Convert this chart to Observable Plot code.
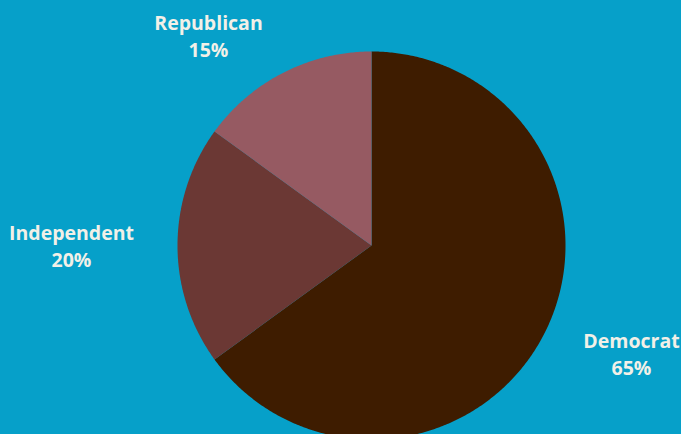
<!DOCTYPE html>
<html>
<head>
<meta charset="utf-8">
<script src="https://cdn.jsdelivr.net/npm/d3@7"></script>
<script src="https://cdn.jsdelivr.net/npm/@observablehq/plot@0.6"></script>
<style>
  html, body { margin: 0; padding: 0; background: #06A0C9; overflow: hidden; }
  #chart svg { display: block; }
</style>
</head>
<body>
<div id="chart"></div>
<script>
// Data
const categories = ["Democrat", "Independent", "Republican"];
const values = [65, 20, 15];
const colors = ["#3E1C00", "#6B3834", "#965A62"];

// Layout
const W = 681, H = 434;
const cx = 371, cy = 245, R = 194;
// label anchor points (layout only)
const labelPos = {
  Democrat: [631, 352],
  Independent: [71, 244],
  Republican: [208, 34]
};

const arcs = d3.pie().sort(null).value(d => d.value)(
  categories.map((c, i) => ({category: c, value: values[i], color: colors[i]}))
);

const marks = [];
arcs.forEach(a => {
  const pts = [{x: cx, y: cy}];
  const n = Math.max(2, Math.ceil((a.endAngle - a.startAngle) / (Math.PI / 360)));
  for (let k = 0; k <= n; k++) {
    const t = a.startAngle + (a.endAngle - a.startAngle) * k / n;
    pts.push({x: cx + R * Math.sin(t), y: cy - R * Math.cos(t)});
  }
  marks.push(Plot.line(pts, {x: "x", y: "y", fill: a.data.color, stroke: "none", curve: "linear-closed"}));
});

const labels = arcs.map(a => ({
  x: labelPos[a.data.category][0],
  y: labelPos[a.data.category][1],
  text: `${a.data.category}\n${a.data.value}%`
}));
marks.push(Plot.text(labels, {
  x: "x", y: "y", text: "text",
  fill: "#F2F0E8", fontSize: 19.5, fontWeight: "bold",
  fontFamily: "Open Sans", lineHeight: 1.4, lineAnchor: "middle", textAnchor: "middle"
}));

const chart = Plot.plot({
  width: W, height: H,
  margin: 0,
  x: {domain: [0, W], range: [0, W], axis: null},
  y: {domain: [0, H], range: [0, H], axis: null},
  style: {background: "#06A0C9", overflow: "hidden"},
  marks
});
document.getElementById("chart").append(chart);
</script>
</body>
</html>
